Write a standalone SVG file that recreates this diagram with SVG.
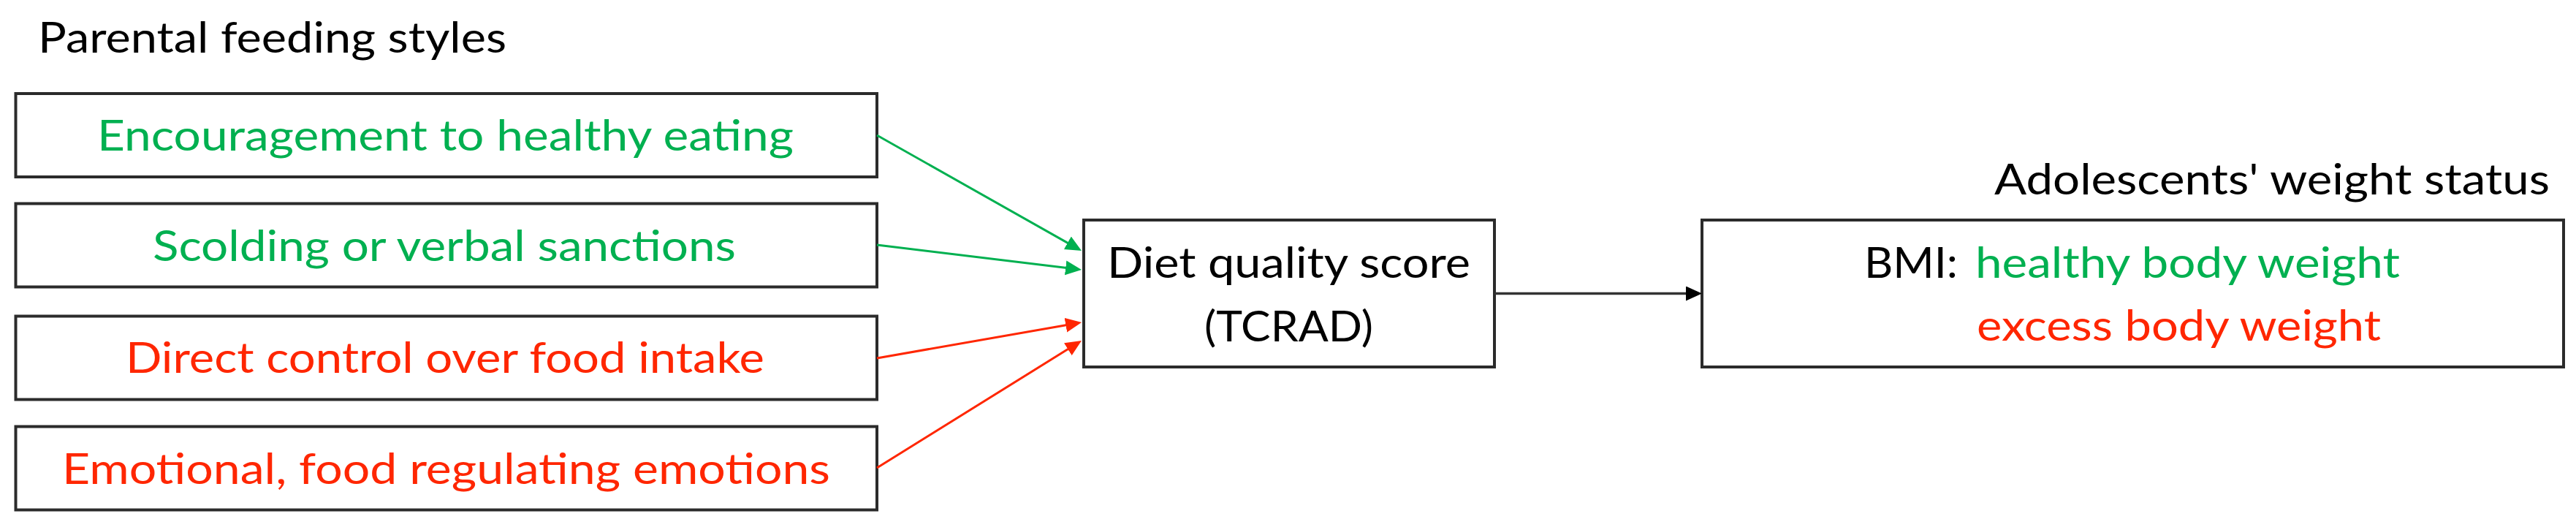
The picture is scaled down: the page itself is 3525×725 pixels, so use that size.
<svg xmlns="http://www.w3.org/2000/svg" width="3525" height="725" viewBox="0 0 3525 725">
<style>
  .box { fill: #ffffff; stroke: #2b2b2b; stroke-width: 4; }
  .t { font-family: Lato, "Open Sans", "Liberation Sans", sans-serif; font-size: 58px; }
  .blk { fill: #000000; }
  .grn { fill: #00B050; }
  .red { fill: #FF2600; }
  .lg { stroke: #00B050; stroke-width: 3; fill: none; }
  .lr { stroke: #FF2600; stroke-width: 3; fill: none; }
  .lk { stroke: #333333; stroke-width: 3.5; fill: none; }
</style>
<defs>
  <marker id="ag" markerUnits="userSpaceOnUse" markerWidth="24" markerHeight="22" refX="12" refY="10" orient="auto">
    <path d="M0,0 L22,10 L0,20 z" fill="#00B050"/>
  </marker>
  <marker id="ar" markerUnits="userSpaceOnUse" markerWidth="24" markerHeight="22" refX="12" refY="10" orient="auto">
    <path d="M0,0 L22,10 L0,20 z" fill="#FF2600"/>
  </marker>
  <marker id="ak" markerUnits="userSpaceOnUse" markerWidth="24" markerHeight="22" refX="12" refY="10" orient="auto">
    <path d="M0,0 L22,10 L0,20 z" fill="#000000"/>
  </marker>
</defs>
<rect width="3525" height="725" fill="#ffffff"/>

<g id="title-left">
  <text class="t blk" x="52" y="72" textLength="641" lengthAdjust="spacingAndGlyphs">Parental feeding styles</text>
</g>
<g id="title-right">
  <text class="t blk" x="2729" y="266" textLength="760" lengthAdjust="spacingAndGlyphs">Adolescents' weight status</text>
</g>

<g id="node-encouragement">
  <rect class="box" x="21.5" y="128" width="1178.5" height="114"/>
  <text class="t grn" x="133" y="206" textLength="953" lengthAdjust="spacingAndGlyphs">Encouragement to healthy eating</text>
</g>
<g id="node-scolding">
  <rect class="box" x="21.5" y="278.5" width="1178.5" height="114"/>
  <text class="t grn" x="209" y="357" textLength="798" lengthAdjust="spacingAndGlyphs">Scolding or verbal sanctions</text>
</g>
<g id="node-direct-control">
  <rect class="box" x="21.5" y="432.5" width="1178.5" height="114"/>
  <text class="t red" x="172" y="510" textLength="874" lengthAdjust="spacingAndGlyphs">Direct control over food intake</text>
</g>
<g id="node-emotional">
  <rect class="box" x="21.5" y="583.5" width="1178.5" height="114"/>
  <text class="t red" x="85" y="662" textLength="1051" lengthAdjust="spacingAndGlyphs">Emotional, food regulating emotions</text>
</g>

<g id="node-diet">
  <rect class="box" x="1483" y="301" width="562" height="201"/>
  <text class="t blk" x="1515" y="380" textLength="497" lengthAdjust="spacingAndGlyphs">Diet quality score</text>
  <text class="t blk" x="1648" y="467" textLength="231" lengthAdjust="spacingAndGlyphs">(TCRAD)</text>
</g>

<g id="node-bmi">
  <rect class="box" x="2329" y="301" width="1179" height="201"/>
  <text class="t blk" x="2551" y="380" textLength="128" lengthAdjust="spacingAndGlyphs">BMI:</text>
  <text class="t grn" x="2703" y="380" textLength="581" lengthAdjust="spacingAndGlyphs">healthy body weight</text>
  <text class="t red" x="2705" y="466" textLength="553" lengthAdjust="spacingAndGlyphs">excess body weight</text>
</g>

<g id="connectors">
  <line class="lg" x1="1200" y1="185" x2="1471.3" y2="338.1" marker-end="url(#ag)"/>
  <line class="lg" x1="1200" y1="335" x2="1470.1" y2="367.8" marker-end="url(#ag)"/>
  <line class="lr" x1="1200" y1="490" x2="1470.2" y2="442.7" marker-end="url(#ar)"/>
  <line class="lr" x1="1200" y1="640" x2="1471.5" y2="471.3" marker-end="url(#ar)"/>
  <line class="lk" x1="2045" y1="401.5" x2="2319" y2="401.5" marker-end="url(#ak)"/>
</g>
</svg>
